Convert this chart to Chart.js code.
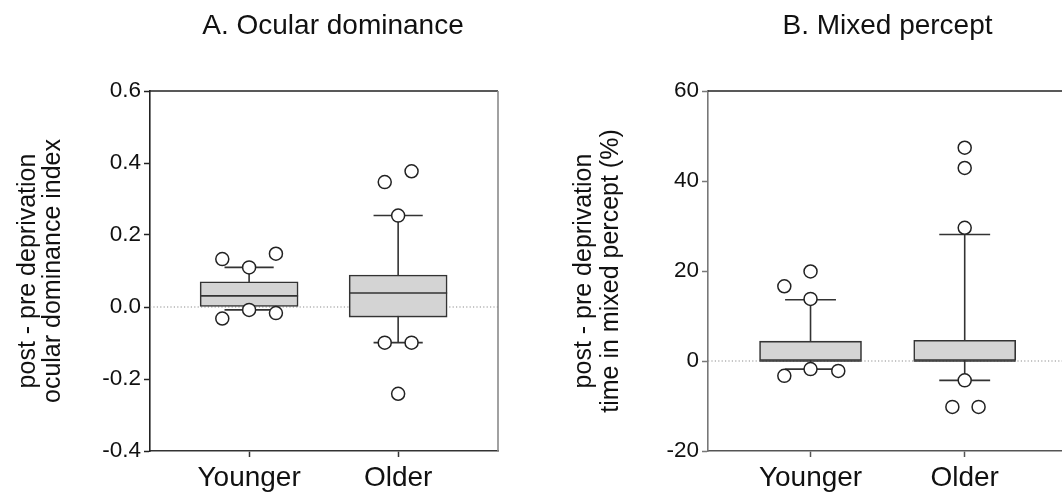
<!DOCTYPE html>
<html>
<head>
<meta charset="utf-8">
<script src="https://cdn.jsdelivr.net/npm/chart.js@4.4.1/dist/chart.umd.min.js"></script>
<style>
  html, body { margin: 0; padding: 0; background: #fff; overflow: hidden; }
  #wrap { position: relative; width: 1062px; height: 492px; overflow: hidden; }
  canvas { position: absolute; top: 0; }
  #odChart { left: 0; }
  #mixChart { left: 560px; }
</style>
</head>
<body>
<div id="wrap">
  <canvas id="odChart" width="666" height="492"></canvas>
  <canvas id="mixChart" width="655" height="492"></canvas>
</div>
<script>
var groups = ['Younger', 'Older'];

// A. ocular dominance index (post - pre)
var odBoxLow = [0.0, -0.028];
var odBoxHigh = [0.070, 0.089];
var odMedian = [0.031, 0.039];
var odWhiskLow = [-0.008, -0.099];
var odWhiskHigh = [0.110, 0.254];
var odPointX = [0.82, 1.0, 1.18, 0.82, 1.0, 1.18, 1.91, 2.09, 2.0, 1.91, 2.09, 2.0];
var odPointY = [0.133, 0.110, 0.148, -0.032, -0.008, -0.017, 0.347, 0.377, 0.254, -0.099, -0.099, -0.241];

// B. time in mixed percept (%) (post - pre)
var mixBoxLow = [0, 0];
var mixBoxHigh = [4.4, 4.6];
var mixMedian = [0, 0];
var mixWhiskLow = [-1.8, -4.3];
var mixWhiskHigh = [13.6, 28.1];
var mixPointX = [0.83, 1.0, 1.0, 0.83, 1.0, 1.18, 2.0, 2.0, 2.0, 2.0, 1.92, 2.09];
var mixPointY = [16.6, 19.9, 13.8, -3.3, -1.8, -2.2, 47.4, 42.9, 29.6, -4.3, -10.2, -10.2];

var FONT = "'Liberation Sans', Arial, sans-serif";
var CAP = 0.165;   // whisker cap half-width, in x units

// whiskers, medians, zero line and the frame around the plot
var boxParts = {
  id: 'boxParts',
  beforeDatasetsDraw: function(chart, args, o) {
    var ctx = chart.ctx, a = chart.chartArea, x = chart.scales.x, y = chart.scales.y;
    ctx.save();
    var y0 = y.getPixelForValue(0);
    ctx.strokeStyle = '#8c8c8c';
    ctx.lineWidth = 1.2;
    ctx.setLineDash([1.2, 2.2]);
    ctx.beginPath();
    ctx.moveTo(a.left, y0);
    ctx.lineTo(a.right, y0);
    ctx.stroke();
    ctx.setLineDash([]);
    ctx.strokeStyle = '#333';
    ctx.lineWidth = 1.6;
    o.low.forEach(function(lo, i) {
      var cx = x.getPixelForValue(i + 1);
      var hw = x.getPixelForValue(i + 1 + CAP) - cx;
      var yl = y.getPixelForValue(lo), yh = y.getPixelForValue(o.high[i]);
      ctx.beginPath();
      ctx.moveTo(cx, yl); ctx.lineTo(cx, yh);
      ctx.moveTo(cx - hw, yl); ctx.lineTo(cx + hw, yl);
      ctx.moveTo(cx - hw, yh); ctx.lineTo(cx + hw, yh);
      ctx.stroke();
    });
    ctx.restore();
  },
  afterDatasetDraw: function(chart, args, o) {
    if (args.index !== 0) return;
    var ctx = chart.ctx, y = chart.scales.y;
    var meta = chart.getDatasetMeta(0);
    ctx.save();
    ctx.strokeStyle = '#333';
    ctx.lineWidth = 1.6;
    o.median.forEach(function(m, i) {
      var bar = meta.data[i];
      var ym = y.getPixelForValue(m);
      ctx.beginPath();
      ctx.moveTo(bar.x - bar.width / 2, ym);
      ctx.lineTo(bar.x + bar.width / 2, ym);
      ctx.stroke();
    });
    ctx.restore();
  },
  afterDraw: function(chart, args, o) {
    var ctx = chart.ctx, a = chart.chartArea;
    ctx.save();
    ctx.lineWidth = 1.6;
    ctx.strokeStyle = o.topColor;
    ctx.beginPath();
    ctx.moveTo(a.left, a.top); ctx.lineTo(a.right, a.top);
    ctx.stroke();
    ctx.strokeStyle = o.rightColor;
    ctx.beginPath();
    ctx.moveTo(a.right, a.top); ctx.lineTo(a.right, a.bottom);
    ctx.stroke();
    ctx.restore();
  }
};

function drawPanel(id, p) {
  var boxes = p.low.map(function(lo, i) {
    return { x: i + 1, y: [lo, p.high[i]] };
  });
  var points = p.px.map(function(v, i) {
    return { x: v, y: p.py[i] };
  });
  return new Chart(document.getElementById(id), {
    type: 'scatter',
    data: {
      datasets: [{
        type: 'bar',
        data: boxes,
        backgroundColor: '#d4d4d4',
        borderColor: '#333',
        borderWidth: 1.6,
        borderSkipped: false,
        barThickness: p.barWidth,
        order: 2
      }, {
        type: 'scatter',
        data: points,
        pointRadius: 6.5,
        pointBackgroundColor: '#fff',
        pointBorderColor: '#222',
        pointBorderWidth: 1.5,
        order: 1
      }]
    },
    options: {
      responsive: false,
      animation: false,
      events: [],
      layout: { padding: 0 },
      plugins: {
        legend: { display: false },
        tooltip: { enabled: false },
        title: {
          display: true,
          text: p.title,
          color: '#111',
          font: { family: FONT, size: 28, weight: 'normal', lineHeight: 1.2 },
          padding: { top: 9, bottom: 48.4 }
        },
        boxParts: {
          low: p.wLow, high: p.wHigh, median: p.median,
          topColor: '#222', rightColor: '#8a8a8a'
        }
      },
      scales: {
        x: {
          type: 'linear',
          min: 0.335,
          max: 2.67,
          offset: false,
          afterBuildTicks: function(s) { s.ticks = [{ value: 1 }, { value: 2 }]; },
          afterFit: function(s) { s.height = 41; },
          grid: { display: true, offset: false, drawOnChartArea: false, drawTicks: true, tickLength: 6, tickColor: p.xColor, tickWidth: 1.5 },
          border: { display: true, color: p.xColor, width: 1.6 },
          ticks: {
            color: '#111',
            padding: 4,
            font: { family: FONT, size: 28 },
            callback: function(v) { return groups[Math.round(v) - 1]; }
          }
        },
        y: {
          min: p.yMin,
          max: p.yMax,
          afterFit: function(s) { s.width = p.yWidth; },
          grid: { display: true, drawOnChartArea: false, drawTicks: true, tickLength: 6, tickColor: p.yColor, tickWidth: 1.5 },
          border: { display: true, color: p.yColor, width: 1.6 },
          ticks: {
            stepSize: p.step,
            color: '#111',
            padding: 3,
            font: { family: FONT, size: 22.5 },
            callback: p.fmt
          },
          title: {
            display: true,
            text: p.yTitle,
            color: '#111',
            font: { family: FONT, size: 25, lineHeight: p.titleLine },
            padding: { top: p.titlePad, bottom: 0 }
          }
        },
        // empty right-hand axis: keeps room on the right so the title centres on the whole canvas
        yRight: {
          type: 'linear',
          position: 'right',
          min: p.yMin,
          max: p.yMax,
          afterFit: function(s) { s.width = p.padRight; },
          grid: { display: false },
          border: { display: false },
          ticks: { display: false }
        }
      }
    },
    plugins: [boxParts]
  });
}

drawPanel('odChart', {
  title: 'A. Ocular dominance',
  yTitle: ['post - pre deprivation', 'ocular dominance index'],
  low: odBoxLow, high: odBoxHigh, median: odMedian,
  wLow: odWhiskLow, wHigh: odWhiskHigh,
  px: odPointX, py: odPointY,
  yMin: -0.4, yMax: 0.6, step: 0.2,
  fmt: function(v) { return Math.abs(v) < 1e-9 ? '0.0' : v.toFixed(1); },
  barWidth: 98, yWidth: 150, padRight: 168,
  titleLine: 1.02, titlePad: 15,
  xColor: '#333', yColor: '#222'
});

drawPanel('mixChart', {
  title: 'B. Mixed percept',
  yTitle: ['post - pre deprivation', 'time in mixed percept (%)'],
  low: mixBoxLow, high: mixBoxHigh, median: mixMedian,
  wLow: mixWhiskLow, wHigh: mixWhiskHigh,
  px: mixPointX, py: mixPointY,
  yMin: -20, yMax: 60, step: 20,
  fmt: function(v) { return v; },
  barWidth: 102, yWidth: 148, padRight: 147,
  titleLine: 1.1, titlePad: 10,
  xColor: '#555', yColor: '#777'
});
</script>
</body>
</html>
